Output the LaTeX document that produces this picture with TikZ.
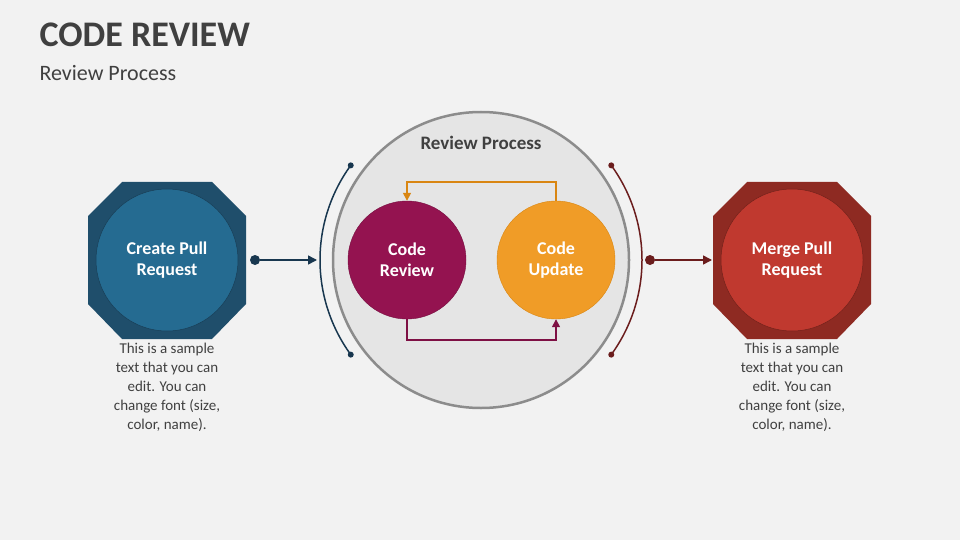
\documentclass[tikz,border=0pt]{standalone}
\usepackage{fontspec}
\setmainfont{Carlito}
\usetikzlibrary{arrows.meta,shapes.geometric}
\definecolor{bg}{HTML}{F2F2F2}
\definecolor{dblue}{HTML}{1F4E6B}
\definecolor{mblue}{HTML}{256B91}
\definecolor{dred}{HTML}{8E2A22}
\definecolor{mred}{HTML}{C0392F}
\definecolor{plum}{HTML}{941350}
\definecolor{orng}{HTML}{F09C27}
\definecolor{ordk}{HTML}{D98612}
\definecolor{navy}{HTML}{18374F}
\definecolor{maroon}{HTML}{6B1D1D}
\definecolor{txt}{HTML}{404040}
\tikzset{
 disc/.style={circle,minimum size=#1,inner sep=0,text=white,font=\bfseries\fontsize{18}{21}\selectfont,align=center},
 desc/.style={align=center,text=txt,font=\fontsize{15}{19}\selectfont},
 dotc/.style={circle,fill,inner sep=0,minimum size=#1},
}
\begin{document}
\begin{tikzpicture}[x=1pt,y=-1pt]
\fill[bg] (0,0) rectangle (960,540);
\useasboundingbox (0,0) rectangle (960,540);
\node[anchor=west,text=txt,font=\bfseries\fontsize{36}{40}\selectfont] (title) at (36,35) {CODE REVIEW};
\node[anchor=west,text=txt,font=\fontsize{22}{26}\selectfont] (sub) at (36,73) {Review Process};
% left
\fill[dblue] (122,182) -- (212,182) -- (246,216) -- (246,304) -- (212,339) -- (122,339) -- (88,304) -- (88,216) -- cycle;
\node[disc=142,fill=mblue,draw=dblue!80!black,line width=0.5pt] (lc) at (167,260) {Create Pull\\Request};
\node[desc,anchor=north] (ld) at (167,340) {This is a sample\\text that you can\\edit. You can\\change font (size,\\color, name).};
% right
\fill[dred] (747,182) -- (837,182) -- (871,216) -- (871,304) -- (837,339) -- (747,339) -- (713,304) -- (713,216) -- cycle;
\node[disc=142,fill=mred,draw=dred!80!black,line width=0.5pt] (rc) at (792,260) {Merge Pull\\Request};
\node[desc,anchor=north] (rd) at (792,340) {This is a sample\\text that you can\\edit. You can\\change font (size,\\color, name).};
% central
\node[circle,minimum size=296,inner sep=0,fill=black!10,draw=black!45,line width=2.5pt] (big) at (481,260) {};
\node[text=txt,font=\bfseries\fontsize{19}{22}\selectfont] (bt) at (481,143) {Review Process};
\node[disc=118,fill=plum,draw=plum!80!black] (cr) at (407,260) {Code\\Review};
\node[disc=118,fill=orng,draw=ordk] (cu) at (556,260) {Code\\Update};
\draw[ordk,line width=1.5pt,-{Triangle[length=8pt,width=8pt]}] (cu.north) -- ++(0,-19) -| (cr.north);
\draw[plum!85!black,line width=1.5pt,-{Triangle[length=8pt,width=8pt]}] (cr.south) -- ++(0,21) -| (cu.south);
% arcs
\draw[navy,line width=1.5pt] (481,260) ++(144:161) arc[start angle=144,end angle=216,radius=161];
\node[dotc=6,fill=navy] (ld1) at ([shift={(144:161)}]481,260) {};
\node[dotc=6,fill=navy] (ld2) at ([shift={(216:161)}]481,260) {};
\draw[maroon,line width=1.5pt] (481,260) ++(-36:161) arc[start angle=-36,end angle=36,radius=161];
\node[dotc=6,fill=maroon] (rd1) at ([shift={(-36:161)}]481,260) {};
\node[dotc=6,fill=maroon] (rd2) at ([shift={(36:161)}]481,260) {};
% arrows
\node[dotc=10,fill=navy] (lad) at (255,260) {};
\coordinate (lae) at (317,260);
\draw[navy,line width=1.5pt,-{Triangle[length=9pt,width=9pt]}] (lad) -- (lae);
\node[dotc=10,fill=maroon] (rad) at (650,260) {};
\coordinate (rae) at (712,260);
\draw[maroon,line width=1.5pt,-{Triangle[length=9pt,width=9pt]}] (rad) -- (rae);
\end{tikzpicture}
\end{document}
